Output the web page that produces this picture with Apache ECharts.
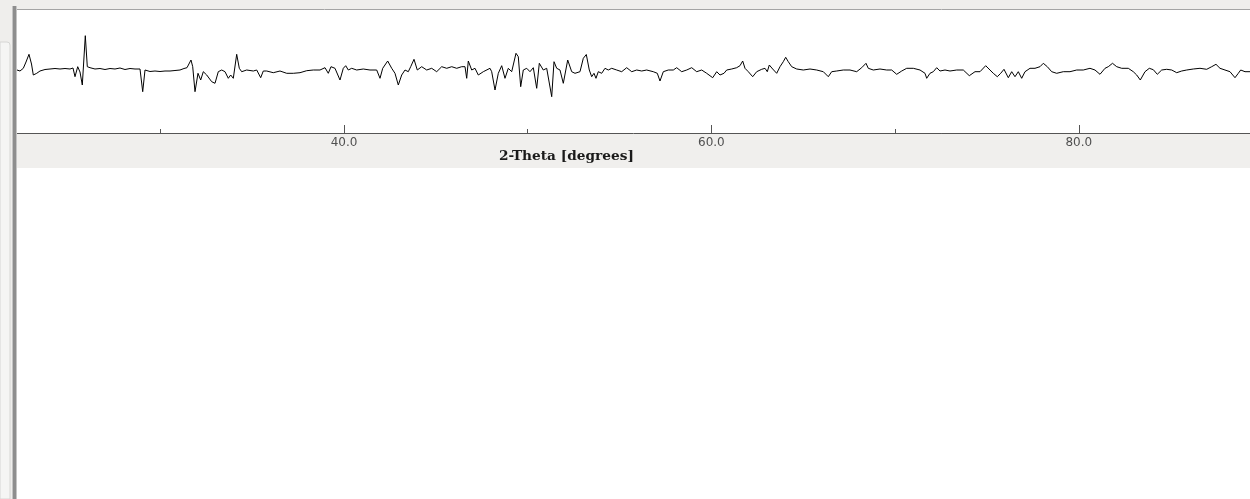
<!DOCTYPE html>
<html>
<head>
<meta charset="utf-8">
<script src="https://cdn.jsdelivr.net/npm/echarts@6/dist/echarts.min.js"></script>
<style>
html,body{margin:0;padding:0;background:#fff;}
#chart{width:1250px;height:499px;}
</style>
</head>
<body>
<div id="chart"></div>
<script>
// 2-Theta positions (degrees)
const twoTheta = [
22.199,22.362,22.542,22.689,22.852,22.989,23.087,23.272,23.451,23.723,23.996,24.268,24.540,24.812,25.084,25.248,25.357,25.504,25.629,25.754,25.917,26.026,26.173,26.445,26.717,26.990,27.262,27.534,27.806,28.078,28.351,28.623,28.895,29.042,29.167,29.439,29.711,29.984,30.256,30.528,30.800,31.072,31.290,31.453,31.671,31.764,31.889,32.052,32.199,32.341,32.526,
32.613,32.798,32.978,33.157,33.342,33.522,33.702,33.832,33.974,34.159,34.301,34.431,34.703,35.063,35.248,35.465,35.607,35.792,36.151,36.516,36.881,37.240,37.605,37.970,38.329,38.694,38.966,39.145,39.292,39.510,39.782,39.962,40.093,40.234,40.419,40.691,41.051,41.415,41.780,41.960,42.107,42.379,42.597,42.776,
42.956,43.141,43.321,43.500,43.631,43.811,43.990,44.230,44.502,44.774,45.046,45.319,45.591,45.863,46.135,46.407,46.587,46.679,46.767,46.952,47.131,47.311,47.583,47.948,48.040,48.220,48.400,48.585,48.764,48.944,49.129,49.363,49.488,49.619,49.761,49.946,50.125,50.305,50.490,50.632,50.849,51.034,51.307,51.432,51.579,51.758,51.938,52.178,52.395,52.575,52.847,53.027,53.190,53.353,53.484,53.609,53.718,53.843,54.028,
54.208,54.388,54.573,54.845,55.117,55.389,55.662,55.934,56.206,56.478,56.837,57.055,57.202,57.382,57.654,57.926,58.111,58.383,58.656,58.928,59.200,59.472,59.744,60.071,60.289,60.468,60.686,60.833,61.105,61.377,61.557,61.704,61.829,62.009,62.248,62.466,62.738,62.918,63.043,63.152,63.337,63.555,
63.735,63.914,64.045,64.186,64.372,64.644,65.003,65.368,65.732,66.092,66.364,66.549,66.821,67.180,67.545,67.910,68.182,68.416,68.541,68.814,69.178,69.543,69.815,70.087,70.360,70.632,70.991,71.356,71.628,71.720,71.900,72.080,72.265,72.444,72.717,72.989,73.354,73.713,
73.805,74.040,74.350,74.622,74.932,75.166,75.346,75.564,75.749,75.928,76.163,76.348,76.527,76.707,76.892,77.072,77.344,77.616,77.888,78.068,78.286,78.525,78.797,79.157,79.521,79.886,80.245,80.610,80.882,81.154,81.427,81.606,81.835,82.064,82.336,82.695,82.967,83.152,83.348,83.604,83.838,84.056,84.274,84.513,84.785,85.058,85.330,85.602,85.874,86.233,86.598,86.963,87.235,87.469,87.687,87.959,88.231,88.503,88.683,88.814,89.048,89.320
];
// difference intensity (counts, obs - calc)
const diff = [
0,-10,17,80,157,60,-50,-33,-10,5,10,15,10,15,10,20,-67,33,-20,-150,343,33,23,10,15,5,15,10,20,5,15,10,10,-217,0,-15,-10,-15,-10,-10,-5,0,15,23,100,33,-217,-33,-100,-17,-50,
-50,-117,-133,-17,0,-17,-83,-50,-83,157,17,-17,0,-10,0,-77,-10,-10,-27,-10,-33,-33,-27,-7,0,0,23,-33,33,17,-100,17,43,0,17,0,10,0,0,-83,17,90,17,-33,
-150,-50,0,-17,33,107,0,33,0,17,-17,33,17,33,17,33,33,-83,90,0,17,-50,-17,17,-17,-200,-33,43,-83,17,-17,167,133,-167,0,17,-17,23,-183,67,0,17,-267,83,17,0,-133,100,-17,-33,-17,117,155,0,-67,-33,-83,-17,-33,
17,0,17,0,-17,23,-17,0,-10,0,-17,-33,-110,-17,0,0,23,-17,0,23,-17,0,-33,-77,-17,-50,-33,0,10,23,43,90,17,-17,-67,-17,7,17,-17,50,10,-33,
33,83,127,83,33,10,0,10,0,-17,-67,-17,-10,0,0,-17,23,67,17,0,10,0,0,-43,-10,17,17,0,-33,-83,-33,-17,23,-10,0,-10,0,0,
-10,-57,-17,-17,43,0,-33,-67,-33,7,-77,-17,-67,-17,-83,-17,17,17,33,67,33,-17,-33,-17,-17,0,0,17,0,-43,17,33,67,33,17,17,-17,-50,-100,-17,17,3,-43,0,7,0,-27,-10,0,10,17,7,33,57,17,0,-17,-77,-33,0,-17,-17
];
const majorTicks = [40, 60, 80];
const minorTicks = [30, 50, 70];
const xTitle = '2-Theta [degrees]';

const chart = echarts.init(document.getElementById('chart'), null, {renderer: 'canvas'});
const data = twoTheta.map((x, i) => [x, diff[i]]);
const xMin = 22.199, xMax = 89.32;

chart.setOption({
  animation: false,
  backgroundColor: '#ffffff',
  title: {
    text: xTitle, left: 499, top: 149, padding: 0,
    textStyle: {fontSize: 13.7, fontWeight: 'bold', fontFamily: 'DejaVu Serif', color: '#1a1a1a'}
  },
  grid: {left: 17, top: 10, width: 1233, height: 123, containLabel: false},
  xAxis: [{
    type: 'value', min: xMin, max: xMax, position: 'bottom',
    axisLine: {onZero: false, lineStyle: {color: '#555', width: 1}},
    axisTick: {inside: true, length: 8, lineStyle: {color: '#555'}, customValues: majorTicks},
    axisLabel: {customValues: majorTicks, margin: 4, fontSize: 12, fontFamily: 'DejaVu Sans', color: '#505050',
      formatter: v => Number(v).toFixed(1)},
    splitLine: {show: false}
  }, {
    type: 'value', min: xMin, max: xMax, position: 'bottom',
    axisLine: {show: false, onZero: false},
    axisTick: {inside: true, length: 4, lineStyle: {color: '#555'}, customValues: minorTicks},
    axisLabel: {show: false},
    splitLine: {show: false}
  }],
  yAxis: {type: 'value', min: -630, max: 600, show: false},
  series: [{
    type: 'line', xAxisIndex: 0, data: data, showSymbol: false, symbol: 'none',
    lineStyle: {color: '#000', width: 1}, clip: true
  }],
  graphic: [
    {type: 'rect', z: -10, shape: {x: 0, y: 0, width: 1250, height: 9}, style: {fill: '#efeeec'}},
    {type: 'rect', z: -10, shape: {x: 0, y: 0, width: 12, height: 499}, style: {fill: '#efeeec'}},
    {type: 'rect', z: -10, shape: {x: 0, y: 42, width: 10, height: 457, r: [0, 3, 0, 0]}, style: {fill: '#f5f5f4', stroke: '#d6d6d4', lineWidth: 1}},
    {type: 'rect', z: -10, shape: {x: 16, y: 134, width: 1234, height: 34}, style: {fill: '#f0efed'}},
    {type: 'line', z: 10, shape: {x1: 16, y1: 9.5, x2: 1250, y2: 9.5}, style: {stroke: '#a4a4a4', lineWidth: 1}},
    {type: 'rect', z: 10, shape: {x: 12, y: 6, width: 5, height: 493}, style: {fill: '#c4c4c4'}},
    {type: 'rect', z: 10, shape: {x: 13, y: 6, width: 3, height: 493}, style: {fill: '#8e8e8e'}}
  ]
});
</script>
</body>
</html>
